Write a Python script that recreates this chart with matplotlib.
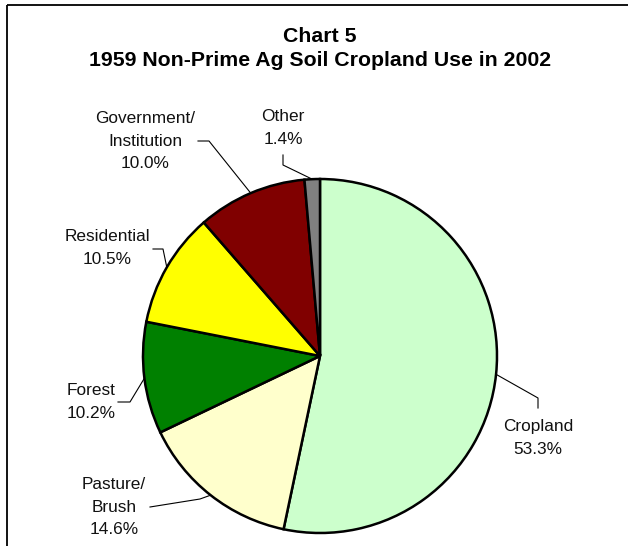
import numpy as np
import matplotlib.pyplot as plt
from matplotlib.patches import Rectangle

categories = ["Cropland", "Pasture/\nBrush", "Forest", "Residential", "Government/\nInstitution", "Other"]
shares = [53.3, 14.6, 10.2, 10.5, 10.0, 1.4]
colors = ["#CCFFCC", "#FFFFCC", "#008000", "#FFFF00", "#800000", "#808080"]

# label block centres and elbow points, in pixel coords (y down)
label_pos = [(538, 438), (114, 507), (91, 402), (107, 248), (145, 141), (283, 128)]
elbows = [[(538, 408), (538, 398)],
          [(150, 507), (200, 499)],
          [(118, 402), (130, 402)],
          [(153, 249), (163, 249)],
          [(198, 141), (209, 141)],
          [(283, 155), (283, 165)]]

plt.rcParams["font.family"] = ["Liberation Sans", "DejaVu Sans"]

fig = plt.figure(figsize=(6.28, 5.46), dpi=100)
ax = fig.add_axes([0, 0, 1, 1])

ax.add_patch(Rectangle((7, 5), 700, 700, fill=False, ec="black", lw=1.3))

cx, cy, r = 320, 356, 177
wedges, _ = ax.pie(shares, colors=colors, startangle=-90, counterclock=True,
                   center=(cx, cy), radius=r, frame=True,
                   wedgeprops=dict(edgecolor="black", linewidth=1.8))
ax.set_xlim(0, 628)
ax.set_ylim(546, 0)
ax.set_aspect("equal")
ax.axis("off")

for w, name, val, pos, elb in zip(wedges, categories, shares, label_pos, elbows):
    mid = np.deg2rad((w.theta1 + w.theta2) / 2)
    edge = (cx + r * np.cos(mid), cy + r * np.sin(mid))
    pts = elb + [edge]
    xs, ys = zip(*pts)
    ax.plot(xs, ys, color="black", lw=0.8)
    ax.text(pos[0], pos[1], f"{name}\n{val:.1f}%", ha="center", va="center",
            fontsize=12.4, linespacing=1.65, color="#111111")

ax.text(320, 36, "Chart 5", ha="center", va="center", fontsize=15.3, fontweight="bold")
ax.text(320, 61, "1959 Non-Prime Ag Soil Cropland Use in 2002", ha="center", va="center",
        fontsize=15.3, fontweight="bold")

fig.savefig("out.png", dpi=100)
